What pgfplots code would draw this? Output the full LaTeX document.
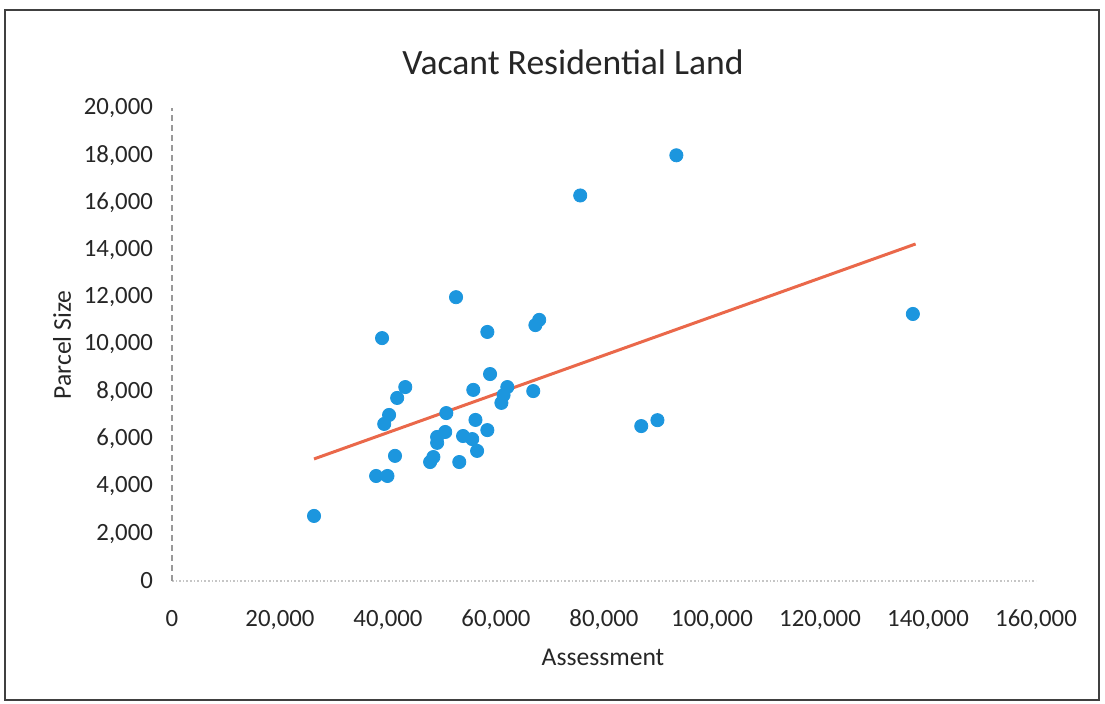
\documentclass[border=0pt]{standalone}
\usepackage{fontspec}
\setmainfont{Carlito}
\usepackage{pgfplots}
\pgfplotsset{compat=1.18}
\definecolor{dotblue}{RGB}{28,150,222}
\definecolor{trend}{RGB}{234,104,74}
\begin{document}
\begin{tikzpicture}
\useasboundingbox (-86pt,-61.5pt) rectangle (466.5pt,290.5pt);
\draw[black!75, line width=1.2pt] (-83.5pt,-59.5pt) rectangle (463.5pt,285.5pt);
\begin{axis}[
  at={(0pt,0pt)}, anchor=origin,
  scale only axis, width=432pt, height=236.5pt,
  xmin=0, xmax=160000, ymin=0, ymax=20000,
  xtick={0,20000,40000,60000,80000,100000,120000,140000,160000},
  xticklabels={0,{20,000},{40,000},{60,000},{80,000},{100,000},{120,000},{140,000},{160,000}},
  ytick={0,2000,4000,6000,8000,10000,12000,14000,16000,18000,20000},
  yticklabels={0,{2,000},{4,000},{6,000},{8,000},{10,000},{12,000},{14,000},{16,000},{18,000},{20,000}},
  scaled ticks=false,
  major tick length=0pt,
  separate axis lines,
  axis x line*=bottom, axis y line*=left,
  x axis line style={draw=gray!45, densely dotted, line width=0.8pt, -},
  y axis line style={draw=gray!80, densely dashed, line width=0.8pt, -},
  tick label style={font=\fontsize{12.4}{14}\selectfont, text=black!85},
  xticklabel style={yshift=-11pt},
  yticklabel style={xshift=-6pt},
  clip=false,
]
\addplot[only marks, mark=*, mark size=3.3pt, mark options={draw=dotblue, fill=dotblue}] coordinates {
(52600,12000) (38900,10270) (58400,10530) (67300,10820) (68000,11040)
(58900,8750) (55800,8080) (62100,8200) (66900,8030) (61400,7860) (61000,7530)
(43200,8200) (41700,7740) (40200,7020) (39300,6640) (50800,7100)
(56200,6810) (58400,6380) (49100,6090) (50600,6300) (53900,6130) (55600,6000)
(49100,5840) (56500,5500) (48400,5240) (47800,5030) (53200,5030) (41300,5290)
(37800,4440) (39900,4440) (26300,2750)
(75600,16300) (93400,18000) (137200,11290) (86900,6550) (89900,6800)
};
\addplot[trend, line width=1.5pt] coordinates {(26300,5160) (137700,14250)};
\end{axis}
\node[font=\fontsize{17.8}{20}\selectfont, text=black!85] at (200.5pt,259.5pt) {Vacant Residential Land};
\node[font=\fontsize{12.8}{15}\selectfont, text=black!85] at (215.5pt,-38pt) {Assessment};
\node[font=\fontsize{12.8}{15}\selectfont, text=black!85, rotate=90] at (-55pt,118pt) {Parcel Size};
\end{tikzpicture}
\end{document}
